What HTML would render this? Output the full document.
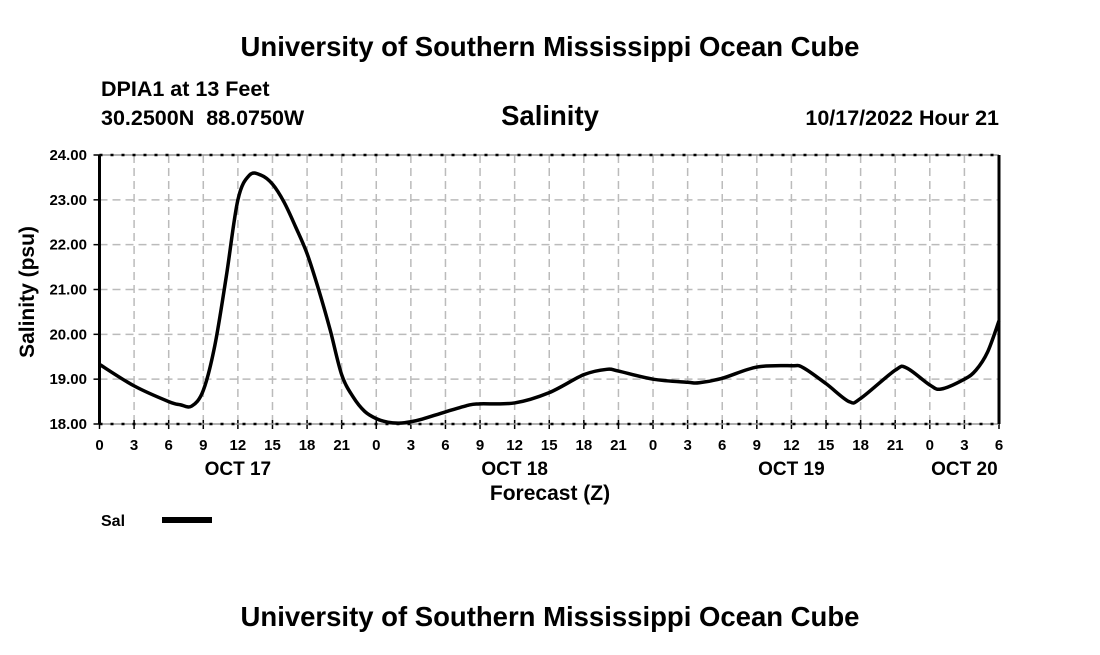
<!DOCTYPE html>
<html><head><meta charset="utf-8"><style>
body{margin:0;background:#fff;width:1100px;height:650px;overflow:hidden}
svg{font-family:"Liberation Sans",Arial,sans-serif;font-weight:bold}
</style></head><body>
<svg id="chart" width="1100" height="650">
<text x="550" y="56" text-anchor="middle" font-size="27.5">University of Southern Mississippi Ocean Cube</text>
<text x="101" y="96" font-size="21.5">DPIA1 at 13 Feet</text>
<text x="101" y="125" font-size="21.5" style="white-space:pre">30.2500N  88.0750W</text>
<text x="550" y="125" text-anchor="middle" font-size="27.5">Salinity</text>
<text x="999" y="125" text-anchor="end" font-size="21.5">10/17/2022 Hour 21</text>
<g id="grid"></g>
<g id="axes"></g>
<path id="line" fill="none" stroke="#000" stroke-width="3.5" stroke-linejoin="round"/>
<text x="34" y="292" transform="rotate(-90 34 292)" text-anchor="middle" font-size="21">Salinity (psu)</text>
<text x="550" y="500" text-anchor="middle" font-size="21">Forecast (Z)</text>
<text x="101" y="526" font-size="16">Sal</text>
<line x1="162" y1="520" x2="212" y2="520" stroke="#000" stroke-width="6"/>
<text x="550" y="626" text-anchor="middle" font-size="27.5">University of Southern Mississippi Ocean Cube</text>
</svg>
<script>
const hours=[0,3,6,7,8,9,10,11,12,13,14,15,16,17,18,19,20,21,22,23,24,25,26,27,28,30,32,33,36,39,42,44,45,48,51,52,54,57,60,61,63,65,66,69,70,72,73,75,76,77,78];
const salinity=[19.33,18.85,18.5,18.43,18.4,18.75,19.75,21.3,23.0,23.55,23.55,23.35,22.95,22.4,21.8,21.0,20.1,19.1,18.6,18.28,18.12,18.04,18.02,18.05,18.11,18.27,18.42,18.45,18.47,18.7,19.1,19.22,19.18,19.0,18.93,18.92,19.02,19.27,19.3,19.26,18.9,18.5,18.57,19.2,19.25,18.87,18.78,19.0,19.2,19.6,20.3];
const yTicks=[18,19,20,21,22,23,24];
const xTickLabels=["0","3","6","9","12","15","18","21","0","3","6","9","12","15","18","21","0","3","6","9","12","15","18","21","0","3","6"];
const dayLabels=["OCT 17","OCT 18","OCT 19","OCT 20"];
const dayHours=[12,36,60,75];
const L=99.5,R=999,T=155,B=424,HMAX=78,YMIN=18,YMAX=24;
const X=h=>L+(R-L)*h/HMAX, Y=v=>B-(B-T)*(v-YMIN)/(YMAX-YMIN);
const NS="http://www.w3.org/2000/svg";
const grid=document.getElementById('grid'),axes=document.getElementById('axes');
function mk(tag,at,parent){const e=document.createElementNS(NS,tag);for(const k in at)e.setAttribute(k,at[k]);parent.appendChild(e);return e;}
xTickLabels.forEach((lab,i)=>{const x=X(i*3);
 if(i>0&&i<xTickLabels.length-1){const g=mk('line',{x1:x,x2:x,y1:T,y2:B,stroke:'#bbb','stroke-width':1.5,'stroke-dasharray':'8,5'},grid);
 
 }
 const tk=mk('line',{x1:x,x2:x,y1:B-4,y2:B+5,stroke:'#000','stroke-width':1.5},axes);
 
 
 const tt=mk('text',{x:x,y:450,'text-anchor':'middle','font-size':15},axes);tt.textContent=lab;
 
 });
yTicks.forEach(v=>{const y=Y(v);
 if(v>YMIN&&v<YMAX){const g=mk('line',{x1:L,x2:R,y1:y,y2:y,stroke:'#bbb','stroke-width':1.5,'stroke-dasharray':'8,5'},grid);
 
 }
 const tk=mk('line',{x1:L-6,x2:L,y1:y,y2:y,stroke:'#000','stroke-width':1.5},axes);
 
 
 const tt=mk('text',{x:87,y:y+5,'text-anchor':'end','font-size':15},axes);tt.textContent=v.toFixed(2);
 
 });
dayLabels.forEach((d,i)=>{const t=mk('text',{x:X(dayHours[i]),y:475,'text-anchor':'middle','font-size':19},axes);t.textContent=d;
 
 });
[T,B].forEach(y=>{mk('line',{x1:L,x2:R,y1:y,y2:y,stroke:'#999','stroke-width':1.5},axes);
 mk('line',{x1:L,x2:R,y1:y,y2:y,stroke:'#000','stroke-width':2.5,'stroke-dasharray':'3,8'},axes);});
mk('line',{x1:L,x2:L,y1:T,y2:B,stroke:'#000','stroke-width':3},axes);
mk('line',{x1:R,x2:R,y1:T,y2:B,stroke:'#000','stroke-width':3},axes);
const pts=hours.map((h,i)=>[X(h),Y(salinity[i])]);
let d='M'+pts[0][0]+','+pts[0][1];
for(let i=0;i<pts.length-1;i++){const p0=pts[Math.max(0,i-1)],p1=pts[i],p2=pts[i+1],p3=pts[Math.min(pts.length-1,i+2)];
 const c1=[p1[0]+(p2[0]-p0[0])/6,p1[1]+(p2[1]-p0[1])/6],c2=[p2[0]-(p3[0]-p1[0])/6,p2[1]-(p3[1]-p1[1])/6];
 d+=` C${c1[0]},${c1[1]} ${c2[0]},${c2[1]} ${p2[0]},${p2[1]}`;}
document.getElementById('line').setAttribute('d',d);
</script>
</body></html>
